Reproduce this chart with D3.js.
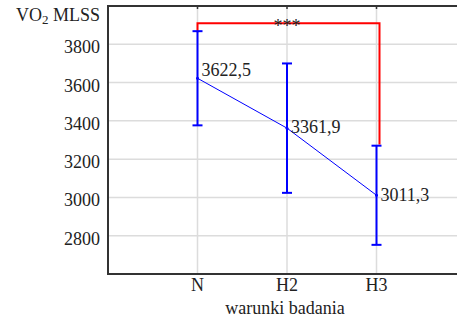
<!DOCTYPE html>
<html><head><meta charset="utf-8">
<script src="https://cdn.jsdelivr.net/npm/d3@7"></script>
<style>body{margin:0;background:#fff}svg{display:block}text{font-family:"Liberation Serif","Times New Roman",serif;fill:#222}</style>
</head><body>
<svg id="c" width="457" height="321"></svg>
<script>
const categories = ["N", "H2", "H3"];
const means = [3622.5, 3361.9, 3011.3];
const sds = [246, 338, 259];
const meanLabels = ["3622,5", "3361,9", "3011,3"];
const yTicks = [2800, 3000, 3200, 3400, 3600, 3800];
const bracket = {from: "N", to: "H3", level: 3910, leftEnd: 3863, rightEnd: 3276, label: "***"};

const svg = d3.select("#c");
const x = d3.scaleLinear().domain([0, 4]).range([108, 466]);
const y = d3.scaleLinear().domain([2600, 4000]).range([274, 6]);
const xi = c => x(categories.indexOf(c) + 1);

// grid
svg.append("g").selectAll("line").data(yTicks).join("line")
  .attr("x1", 108).attr("x2", 457).attr("y1", d => y(d)).attr("y2", d => y(d))
  .attr("stroke", "#dcdcdc").attr("stroke-width", 1.5);
svg.append("g").selectAll("line").data(categories).join("line")
  .attr("x1", d => xi(d)).attr("x2", d => xi(d)).attr("y1", 6).attr("y2", 274)
  .attr("stroke", "#dcdcdc").attr("stroke-width", 1.5);

// frame
svg.append("path").attr("d", "M457,6H108V274H457").attr("fill", "none")
  .attr("stroke", "#333").attr("stroke-width", 2);
svg.append("g").selectAll("line").data(categories).join("line")
  .attr("x1", d => xi(d)).attr("x2", d => xi(d)).attr("y1", 6).attr("y2", 9)
  .attr("stroke", "#333").attr("stroke-width", 1.5);

// y tick labels
svg.append("g").selectAll("text").data(yTicks).join("text")
  .attr("x", 100).attr("y", d => y(d) + 9).attr("text-anchor", "end")
  .attr("font-size", 18).text(d => d);

// y title
const yt = svg.append("text").attr("x", 100).attr("y", 21).attr("text-anchor", "end").attr("font-size", 18);
yt.append("tspan").text("VO");
yt.append("tspan").attr("font-size", 13).attr("dy", 3).text("2");
yt.append("tspan").attr("dy", -3).text(" MLSS");

// x tick labels
svg.append("g").selectAll("text").data(categories).join("text")
  .attr("x", d => xi(d)).attr("y", 291).attr("text-anchor", "middle")
  .attr("font-size", 18).text(d => d);
svg.append("text").attr("x", 285).attr("y", 314).attr("text-anchor", "middle")
  .attr("font-size", 18).text("warunki badania");

// significance bracket
svg.append("path").attr("fill", "none").attr("stroke", "#f00").attr("stroke-width", 2)
  .attr("d", `M${xi(bracket.from)},${y(bracket.leftEnd)}V${y(bracket.level)}H${xi(bracket.to) + 3}V${y(bracket.rightEnd)}`);
svg.append("text").attr("x", x(2)).attr("y", y(bracket.level) + 9).attr("text-anchor", "middle")
  .attr("font-size", 18).text(bracket.label);

// mean line
svg.append("path").datum(means).attr("fill", "none").attr("stroke", "#00f").attr("stroke-width", 1)
  .attr("d", d3.line().x((d, i) => x(i + 1)).y(d => y(d)));

// error bars
const eb = svg.append("g").attr("stroke", "#00f").attr("stroke-width", 2);
means.forEach((m, i) => {
  const cx = x(i + 1), t = y(m + sds[i]), b = y(m - sds[i]);
  eb.append("line").attr("x1", cx).attr("x2", cx).attr("y1", t).attr("y2", b);
  eb.append("line").attr("x1", cx - 5).attr("x2", cx + 5).attr("y1", t).attr("y2", t);
  eb.append("line").attr("x1", cx - 5).attr("x2", cx + 5).attr("y1", b).attr("y2", b);
});
svg.append("g").selectAll("circle").data(means).join("circle")
  .attr("cx", (d, i) => x(i + 1)).attr("cy", d => y(d)).attr("r", 1.5).attr("fill", "#00f");

// mean labels
const labelDy = [-2, 5, 6];
svg.append("g").selectAll("text").data(means).join("text")
  .attr("x", (d, i) => x(i + 1) + 4).attr("y", (d, i) => y(d) + labelDy[i])
  .attr("font-size", 18).text((d, i) => meanLabels[i]);
</script>
</body></html>
